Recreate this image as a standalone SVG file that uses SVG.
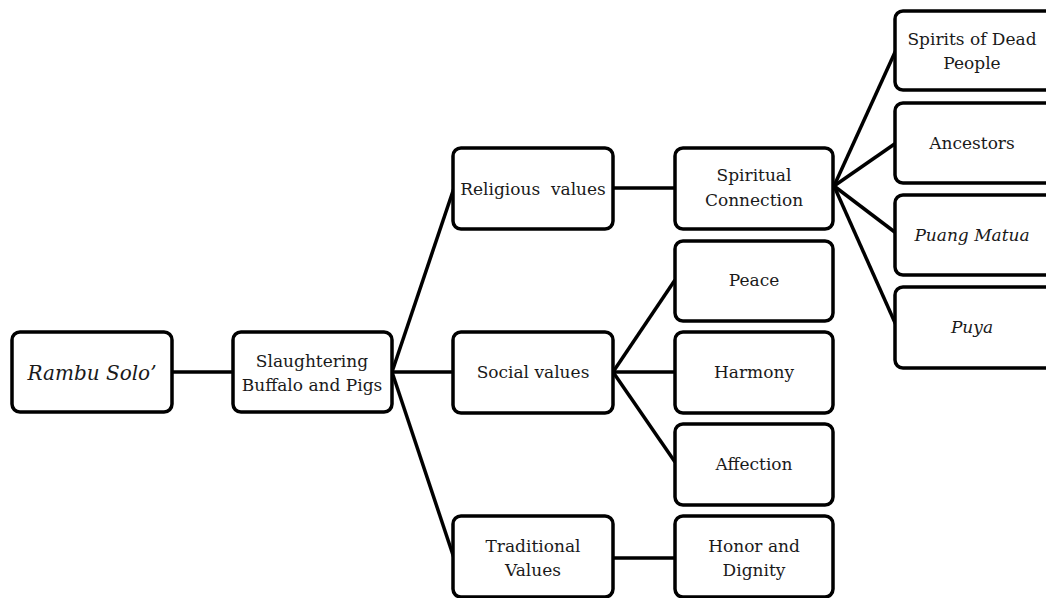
<svg xmlns="http://www.w3.org/2000/svg" width="1046" height="598" viewBox="0 0 1046 598">
<style>
.box{fill:#fff;stroke:#000;stroke-width:3.5}
.lbl{font-family:"DejaVu Serif","Liberation Serif",serif;font-size:17px;fill:#1a1a1a;text-anchor:middle}
.it{font-style:italic}
.conn{stroke:#000;stroke-width:3.5;fill:none}
</style>
<rect width="1046" height="598" fill="#fff"/>
<g id="connectors">
<line class="conn" x1="172" y1="372" x2="233" y2="372"/>
<line class="conn" x1="392" y1="372" x2="454" y2="188"/>
<line class="conn" x1="392" y1="372" x2="453" y2="372"/>
<line class="conn" x1="392" y1="372" x2="454" y2="558"/>
<line class="conn" x1="613" y1="188" x2="675" y2="188"/>
<line class="conn" x1="613" y1="372" x2="675" y2="280"/>
<line class="conn" x1="613" y1="372" x2="675" y2="372"/>
<line class="conn" x1="613" y1="372" x2="675" y2="462"/>
<line class="conn" x1="613" y1="558" x2="675" y2="558"/>
<line class="conn" x1="834" y1="186" x2="896" y2="50"/>
<line class="conn" x1="834" y1="186" x2="896" y2="143"/>
<line class="conn" x1="834" y1="186" x2="896" y2="233"/>
<line class="conn" x1="834" y1="186" x2="896" y2="325"/>
</g>
<g id="rambu"><rect class="box" x="12" y="332" width="160" height="80" rx="8"/><text class="lbl it" x="92" y="380" style="font-size:20px">Rambu Solo’</text></g>
<g id="slaughtering"><rect class="box" x="233" y="332" width="159" height="80" rx="8"/><text class="lbl" x="312" y="367">Slaughtering</text><text class="lbl" x="312" y="391">Buffalo and Pigs</text></g>
<g id="religious"><rect class="box" x="453" y="148" width="160" height="81" rx="8"/><text class="lbl" x="533" y="195" xml:space="preserve">Religious  values</text></g>
<g id="social"><rect class="box" x="453" y="332" width="160" height="81" rx="8"/><text class="lbl" x="533" y="378">Social values</text></g>
<g id="traditional"><rect class="box" x="453" y="516" width="160" height="81" rx="8"/><text class="lbl" x="533" y="552">Traditional</text><text class="lbl" x="533" y="576">Values</text></g>
<g id="spiritual"><rect class="box" x="675" y="148" width="158" height="81" rx="8"/><text class="lbl" x="754" y="181">Spiritual</text><text class="lbl" x="754" y="206">Connection</text></g>
<g id="peace"><rect class="box" x="675" y="241" width="158" height="80" rx="8"/><text class="lbl" x="754" y="286">Peace</text></g>
<g id="harmony"><rect class="box" x="675" y="332" width="158" height="81" rx="8"/><text class="lbl" x="754" y="378">Harmony</text></g>
<g id="affection"><rect class="box" x="675" y="424" width="158" height="81" rx="8"/><text class="lbl" x="754" y="470">Affection</text></g>
<g id="honor"><rect class="box" x="675" y="516" width="158" height="81" rx="8"/><text class="lbl" x="754" y="552">Honor and</text><text class="lbl" x="754" y="576">Dignity</text></g>
<g id="spirits"><rect class="box" x="895" y="11" width="158" height="79" rx="8"/><text class="lbl" x="972" y="45">Spirits of Dead</text><text class="lbl" x="972" y="69">People</text></g>
<g id="ancestors"><rect class="box" x="895" y="103" width="158" height="80" rx="8"/><text class="lbl" x="972" y="149">Ancestors</text></g>
<g id="puangmatua"><rect class="box" x="895" y="195" width="158" height="80" rx="8"/><text class="lbl it" x="972" y="241">Puang Matua</text></g>
<g id="puya"><rect class="box" x="895" y="287" width="158" height="81" rx="8"/><text class="lbl it" x="972" y="333">Puya</text></g>
</svg>
